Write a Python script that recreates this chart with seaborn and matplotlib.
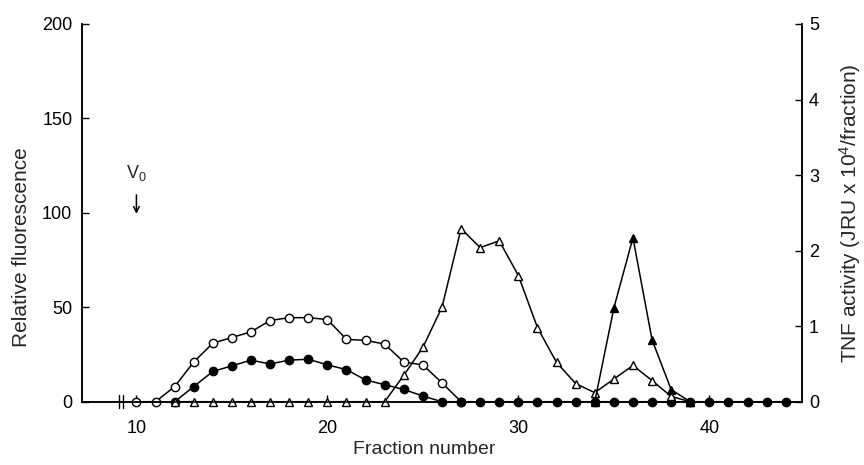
import numpy as np
import pandas as pd
import matplotlib
matplotlib.use("Agg")
import matplotlib.pyplot as plt
import seaborn as sns

# ---- data ----
open_circle_x = list(range(10, 28))
open_circle_y = [0, 0, 8, 21, 31, 34, 37, 43, 44.5, 44.5, 43.5, 33, 32.5, 30.5, 21, 19.5, 10, 0]

filled_circle_x = list(range(12, 45))
filled_circle_y = [0, 8, 16, 19, 22, 20, 22, 22.5, 19.5, 17, 11.5, 9, 6.5, 3] + [0] * 19

open_tri_x = list(range(12, 40))
open_tri_y = [0] * 12 + [0.35, 0.72, 1.25, 2.29, 2.04, 2.13, 1.67, 0.98,
                         0.52, 0.24, 0.12, 0.30, 0.48, 0.28, 0.07, 0]

filled_tri_x = [34, 35, 36, 37, 38, 39]
filled_tri_y = [0, 1.24, 2.17, 0.82, 0.16, 0]

left_ticks = [0, 50, 100, 150, 200]
right_ticks = [0, 1, 2, 3, 4, 5]
x_ticks = [10, 20, 30, 40]

# ---- style ----
sns.set_style("ticks")
plt.rcParams["font.family"] = ["Liberation Sans", "DejaVu Sans"]
plt.rcParams["mathtext.default"] = "regular"

fig = plt.figure(figsize=(8.64, 4.65), dpi=100)
ax = fig.add_axes([0.0949, 0.1361, 0.8333, 0.8123])
ax2 = ax.twinx()

lw = 1.1
common = dict(color="black", linewidth=lw, markeredgecolor="black",
              markeredgewidth=1.0, clip_on=False, legend=False)

sns.lineplot(x=open_circle_x, y=open_circle_y, ax=ax, marker="o", markersize=6,
             markerfacecolor="white", **common)
sns.lineplot(x=filled_circle_x, y=filled_circle_y, ax=ax, marker="o", markersize=6,
             markerfacecolor="black", **common)
sns.lineplot(x=open_tri_x, y=open_tri_y, ax=ax2, marker="^", markersize=5.5,
             markerfacecolor="white", **common)
sns.lineplot(x=filled_tri_x, y=filled_tri_y, ax=ax2, marker="^", markersize=5.5,
             markerfacecolor="black", **common)

ax.set_xlim(7.15, 44.85)
ax.set_ylim(0, 200)
ax2.set_ylim(0, 5)

ax.set_xticks(x_ticks)
ax.set_yticks(left_ticks)
ax2.set_yticks(right_ticks)

fs = 13
for a in (ax, ax2):
    a.tick_params(direction="in", length=5, width=1, labelsize=fs, colors="black")
    a.spines["top"].set_visible(False)
    for s in ("left", "right", "bottom"):
        a.spines[s].set_linewidth(1.1)
        a.spines[s].set_color("black")
ax.tick_params(axis="x", pad=13)
ax.tick_params(axis="y", pad=7)
ax2.tick_params(axis="y", pad=5)

ax.set_xlabel("Fraction number", fontsize=14)
ax.xaxis.set_label_coords(0.476, -0.105)
ax.set_ylabel("Relative fluorescence", fontsize=15)
ax.yaxis.set_label_coords(-0.071, 0.41)
ax2.set_ylabel("TNF activity (JRU x 10$^4$/fraction)", fontsize=15)
ax2.yaxis.set_label_coords(1.049, 0.5)

# axis break on x axis
for xb in (9.1, 9.32):
    ax.plot([xb, xb], [-3.5, 3.5], color="black", linewidth=1.0, clip_on=False)

# V0 marker
ax.text(10, 116, "V$_0$", ha="center", va="bottom", fontsize=13)
ax.annotate("", xy=(10, 98), xytext=(10, 111),
            arrowprops=dict(arrowstyle="->", color="black", lw=1.1))

fig.savefig("out.png", dpi=100)
